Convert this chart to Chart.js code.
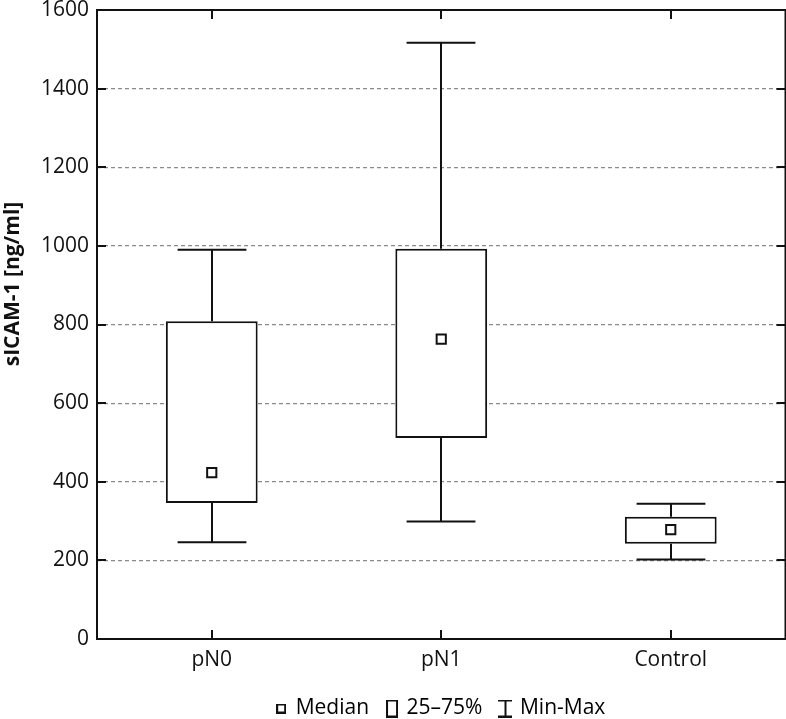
<!DOCTYPE html>
<html>
<head>
<meta charset="utf-8">
<script src="https://cdn.jsdelivr.net/npm/chart.js@4.4.1/dist/chart.umd.min.js"></script>
<style>
  html, body { margin: 0; padding: 0; background: #fff; overflow: hidden; }
  #page { width: 786px; height: 719px; overflow: hidden; }
  #wrap { width: 794px; height: 719px; position: relative; }
</style>
</head>
<body>
<div id="page"><div id="wrap"><canvas id="boxChart"></canvas></div></div>
<script>
// values (ng/ml)
const categories = ['pN0', 'pN1', 'Control'];
const minValues = [246, 299, 202];
const q1Values = [346, 511, 242];
const medianValues = [423, 763, 278];
const q3Values = [808, 993, 311];
const maxValues = [990, 1517, 344];
const yTickValues = [0, 200, 400, 600, 800, 1000, 1200, 1400, 1600];
const yTitle = 'sICAM-1 [ng/ml]';
const legendLabels = ['Median', '25\u201375%', 'Min-Max'];

const FONT = '"Open Sans", "Noto Sans", sans-serif';

// small canvases for the legend symbols
function makeIcon(w, h, draw) {
  const c = document.createElement('canvas');
  c.width = w; c.height = h;
  const g = c.getContext('2d');
  g.strokeStyle = '#111';
  g.lineWidth = 2;
  draw(g);
  return c;
}
const medianIcon = makeIcon(10, 10, g => g.strokeRect(1, 1, 8, 8));
const boxIcon = makeIcon(12, 18, g => g.strokeRect(1, 1, 10, 16));
const rangeIcon = makeIcon(14, 18, g => {
  g.beginPath();
  g.moveTo(0, 1); g.lineTo(14, 1);
  g.moveTo(7, 1); g.lineTo(7, 17);
  g.moveTo(0, 17); g.lineTo(14, 17);
  g.stroke();
});

// whiskers, frame with inward ticks, y title
const boxExtras = {
  id: 'boxExtras',
  afterDatasetsDraw(chart) {
    const {ctx, scales: {x, y}} = chart;
    const catW = x.getPixelForValue(1) - x.getPixelForValue(0);
    const cap = catW * 0.3 / 2;
    ctx.save();
    ctx.strokeStyle = '#111';
    ctx.lineWidth = 2;
    categories.forEach((c, i) => {
      const cx = Math.round(x.getPixelForValue(i));
      const yMin = y.getPixelForValue(minValues[i]);
      const yQ1 = y.getPixelForValue(q1Values[i]);
      const yQ3 = y.getPixelForValue(q3Values[i]);
      const yMax = y.getPixelForValue(maxValues[i]);
      ctx.beginPath();
      ctx.moveTo(cx, yQ1); ctx.lineTo(cx, yMin);
      ctx.moveTo(cx - cap, yMin); ctx.lineTo(cx + cap, yMin);
      ctx.moveTo(cx, yQ3); ctx.lineTo(cx, yMax);
      ctx.moveTo(cx - cap, yMax); ctx.lineTo(cx + cap, yMax);
      ctx.stroke();
    });
    ctx.restore();
  },
  afterDraw(chart) {
    const {ctx, chartArea: a, scales: {x, y}} = chart;
    const t = 9;
    ctx.save();
    ctx.strokeStyle = '#111';
    ctx.lineWidth = 2;
    ctx.strokeRect(a.left, a.top, a.right - a.left, a.bottom - a.top);
    ctx.beginPath();
    yTickValues.forEach(v => {
      const py = Math.round(y.getPixelForValue(v));
      ctx.moveTo(a.left, py); ctx.lineTo(a.left + t, py);
      ctx.moveTo(a.right, py); ctx.lineTo(a.right - t, py);
    });
    categories.forEach((c, i) => {
      const px = Math.round(x.getPixelForValue(i));
      ctx.moveTo(px, a.top); ctx.lineTo(px, a.top + t);
      ctx.moveTo(px, a.bottom); ctx.lineTo(px, a.bottom - t);
    });
    ctx.stroke();

    // axis title
    ctx.translate(13, 284);
    ctx.rotate(-Math.PI / 2);
    ctx.fillStyle = '#111';
    ctx.font = 'bold 21px ' + FONT;
    ctx.textAlign = 'center';
    ctx.textBaseline = 'middle';
    ctx.fillText(yTitle, 0, 0);
    ctx.restore();
  }
};

const ctx = document.getElementById('boxChart').getContext('2d');
const boxChart = new Chart(ctx, {
  type: 'bar',
  data: {
    labels: categories,
    datasets: [
      {
        label: legendLabels[0],
        type: 'line',
        data: medianValues,
        showLine: false,
        pointStyle: 'rect',
        pointRadius: 6.5,
        pointBorderWidth: 2,
        pointBackgroundColor: '#fff',
        pointBorderColor: '#111',
        order: 1
      },
      {
        label: legendLabels[1],
        data: categories.map((c, i) => [q1Values[i], q3Values[i]]),
        backgroundColor: '#fff',
        borderColor: '#111',
        borderWidth: 2,
        borderSkipped: false,
        barPercentage: 0.4,
        categoryPercentage: 1.0,
        order: 2
      }
    ]
  },
  options: {
    responsive: true,
    maintainAspectRatio: false,
    devicePixelRatio: 1,
    animation: false,
    layout: { padding: { top: 10, right: 1, left: 0, bottom: -10 } },
    plugins: {
      tooltip: { enabled: false },
      legend: {
        position: 'bottom',
        fullSize: false,
        labels: {
          usePointStyle: true,
          boxWidth: 8,
          padding: 19,
          color: '#111',
          font: { family: FONT, size: 21 },
          generateLabels: () => [
            { text: legendLabels[0], pointStyle: medianIcon, fillStyle: '#fff', strokeStyle: '#111', lineWidth: 0, hidden: false, datasetIndex: 0 },
            { text: legendLabels[1], pointStyle: boxIcon, fillStyle: '#fff', strokeStyle: '#111', lineWidth: 0, hidden: false, datasetIndex: 1 },
            { text: legendLabels[2], pointStyle: rangeIcon, fillStyle: '#fff', strokeStyle: '#111', lineWidth: 0, hidden: false }
          ]
        }
      }
    },
    scales: {
      x: {
        grid: { display: false, drawTicks: false },
        border: { display: false },
        ticks: { color: '#111', padding: 8, font: { family: FONT, size: 21 } },
        afterFit: s => { s.height = 40; s.paddingLeft = 0; s.paddingRight = 0; }
      },
      y: {
        min: 0,
        max: 1600,
        afterBuildTicks: s => { s.ticks = yTickValues.map(v => ({ value: v })); },
        grid: {
          drawTicks: false,
          lineWidth: 1.2,
          color: c => (c.tick && (c.tick.value === 0 || c.tick.value === 1600)) ? 'rgba(0,0,0,0)' : '#8a8a8a'
        },
        border: { display: false, dash: [4, 3] },
        ticks: {
          color: '#111',
          padding: 8,
          font: { family: FONT, size: 21 },
          callback: v => String(v)
        },
        afterFit: s => { s.width = 97; s.paddingTop = 0; s.paddingBottom = 0; }
      }
    }
  },
  plugins: [boxExtras]
});
</script>
</body>
</html>
